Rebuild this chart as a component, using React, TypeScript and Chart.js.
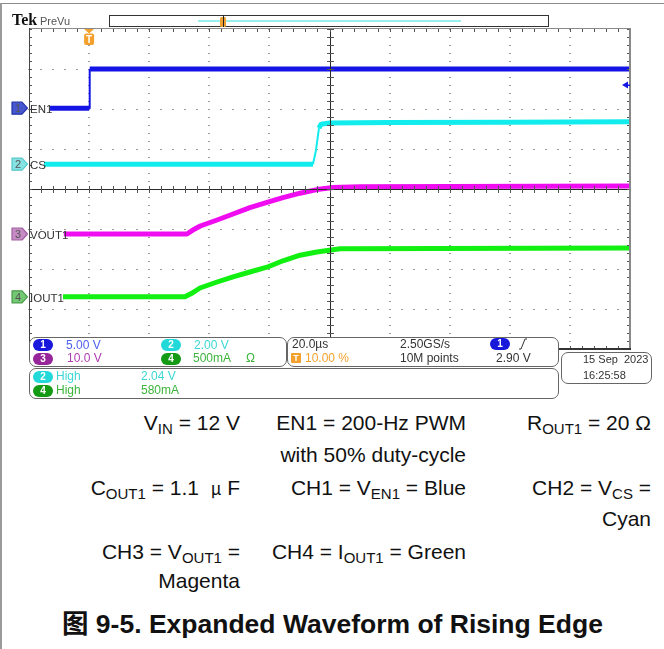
import React, { useEffect, useRef } from 'react';
import { Chart, registerables } from 'chart.js';
Chart.register(...registerables);

// ---------- scope settings ----------
const timeDivTicksUs = [-20, 0, 20, 40, 60, 80, 100, 120, 140, 160, 180];
const verticalDivTicks = [-4, -3, -2, -1, 0, 1, 2, 3, 4];
const minorPerDiv = 5;

const channelNames = ['EN1', 'CS', 'VOUT1', 'IOUT1'];
const channelScalesPerDiv = [5, 2, 10, 0.5]; // V/div, V/div, V/div, A/div
const channelOffsetsDiv = [2.02, 0.62, -1.125, -2.695];
const triggerLevelV = 2.9;
const triggerTimeUs = 0;

// ---------- waveforms ----------
// CH1 EN1 (V)
const en1TimeUs = [-13, 0, 0.2, 180];
const en1Volts = [0, 0, 4.9, 4.9];
// CH2 CS (V)
const csTimeUs = [-15, 74.5, 75.5, 76.5, 77.2, 80, 100, 140, 180];
const csVolts = [0, 0, 0.7, 1.8, 2.0, 2.06, 2.08, 2.1, 2.12];
// CH3 VOUT1 (V)
const voutTimeUs = [-8.4, 32.6, 35, 37, 42.6, 47.9, 53.5, 59.2, 64.5, 70.2, 75.8, 81.2, 90, 180];
const voutVolts = [0, 0, 1.2, 2.0, 3.5, 5.0, 6.6, 7.9, 9.1, 10.2, 11.1, 11.6, 11.8, 12.0];
// CH4 IOUT1 (A)
const ioutTimeUs = [-8.7, 31.9, 34, 36.9, 42.6, 47.9, 53.5, 59.2, 64.5, 70.2, 75.8, 83.5, 180];
const ioutAmps = [0, 0, 0.04, 0.11, 0.185, 0.25, 0.31, 0.37, 0.45, 0.52, 0.56, 0.6, 0.61];

const traceColors = ['#1414e6', '#12ecec', '#f00cf0', '#12f012'];
const markerFills = ['#4656cf', '#86e2e2', '#c58cc5', '#74c874'];
const markerStrokes = ['#2233aa', '#55c8c8', '#a060a0', '#4a9a4a'];

const SANS = '"Liberation Sans", Arial, sans-serif';
const W = 664;
const PLOT_L = 29, PLOT_R = 630, PLOT_T = 29, PLOT_B = 349;
const CANVAS_H = 360;

const yPix = (div: number) => PLOT_T + ((4 - div) / 8) * (PLOT_B - PLOT_T);
const xPix = (t: number) => PLOT_L + ((t - timeDivTicksUs[0]) / (timeDivTicksUs[timeDivTicksUs.length - 1] - timeDivTicksUs[0])) * (PLOT_R - PLOT_L);

const scopeGrid = {
  id: 'scopeGrid',
  beforeDatasetsDraw(chart: any) {
    const { ctx, scales: { x, y } } = chart;
    const tMin = timeDivTicksUs[0], tMax = timeDivTicksUs[timeDivTicksUs.length - 1];
    const tMid = (tMin + tMax) / 2;
    const tStep = timeDivTicksUs[1] - timeDivTicksUs[0];
    const vMin = verticalDivTicks[0], vMax = verticalDivTicks[verticalDivTicks.length - 1];
    ctx.save();
    ctx.fillStyle = '#ffffff';
    ctx.fillRect(x.left, y.top, x.right - x.left, y.bottom - y.top);
    ctx.fillStyle = '#9a9a9a';
    for (const t of timeDivTicksUs) {
      if (t === tMin || t === tMax || t === tMid) continue;
      const px = Math.round(x.getPixelForValue(t));
      for (let v = vMin; v <= vMax + 1e-9; v += 1 / minorPerDiv) {
        const py = Math.round(y.getPixelForValue(v));
        ctx.fillRect(px - 1, py, 2, 1);
      }
    }
    for (const v of verticalDivTicks) {
      if (v === vMin || v === vMax || v === 0) continue;
      const py = Math.round(y.getPixelForValue(v));
      for (let t = tMin; t <= tMax + 1e-9; t += tStep / minorPerDiv) {
        const px = Math.round(x.getPixelForValue(t));
        ctx.fillRect(px - 1, py, 2, 1);
      }
    }
    ctx.restore();
  },
  afterDatasetsDraw(chart: any) {
    const { ctx, scales: { x, y } } = chart;
    const tMin = timeDivTicksUs[0], tMax = timeDivTicksUs[timeDivTicksUs.length - 1];
    const tMid = (tMin + tMax) / 2;
    const tStep = timeDivTicksUs[1] - timeDivTicksUs[0];
    const vMin = verticalDivTicks[0], vMax = verticalDivTicks[verticalDivTicks.length - 1];
    const L = Math.round(x.getPixelForValue(tMin)), R = Math.round(x.getPixelForValue(tMax));
    const T = Math.round(y.getPixelForValue(vMax)), B = Math.round(y.getPixelForValue(vMin));
    const CX = Math.round(x.getPixelForValue(tMid)), CY = Math.round(y.getPixelForValue(0));
    ctx.save();
    ctx.fillStyle = '#2a2a2a';
    ctx.fillRect(CX, T, 1, B - T);
    ctx.fillRect(L, CY, R - L, 1);
    ctx.fillStyle = '#555';
    for (let v = vMin; v <= vMax + 1e-9; v += 1 / minorPerDiv) {
      const py = Math.round(y.getPixelForValue(v));
      ctx.fillRect(CX - 3, py, 7, 1);
      ctx.fillRect(L, py, 3, 1);
      ctx.fillRect(R - 3, py, 3, 1);
    }
    for (let t = tMin; t <= tMax + 1e-9; t += tStep / minorPerDiv) {
      const px = Math.round(x.getPixelForValue(t));
      ctx.fillRect(px, CY - 3, 1, 7);
      ctx.fillRect(px, T, 1, 3);
      ctx.fillRect(px, B - 3, 1, 3);
    }
    ctx.fillStyle = '#8a8a8a';
    ctx.fillRect(L, T - 1, R - L + 1, 1);
    ctx.fillStyle = '#444';
    ctx.fillRect(L, T - 1, 1, B - T + 1);
    ctx.fillStyle = '#888';
    ctx.fillRect(R - 1, T - 1, 2, B - T + 2);
    ctx.fillStyle = '#333';
    ctx.fillRect(L, B - 1, R - L + 1, 2);
    ctx.restore();
  },
};

function Txt(props: any) {
  const { x, r, y, size = 12, color = '#333', weight = 400, family = SANS, children, spacing } = props;
  const style: any = {
    position: 'absolute',
    top: y - size * 0.85,
    fontSize: size,
    lineHeight: `${size}px`,
    color,
    fontWeight: weight,
    fontFamily: family,
    whiteSpace: 'nowrap',
    letterSpacing: spacing,
  };
  if (r !== undefined) style.right = W - r;
  else style.left = x;
  return <div style={style}>{children}</div>;
}

function Sub({ children }: any) {
  return <span style={{ fontSize: 15, position: 'relative', top: 4, lineHeight: 0 }}>{children}</span>;
}

function Pill({ x, y, bg, n }: any) {
  return (
    <div style={{
      position: 'absolute', left: x, top: y, width: 20, height: 12, borderRadius: 6, background: bg,
      color: '#fff', fontSize: 10, lineHeight: '12px', textAlign: 'center', fontFamily: SANS, fontWeight: 700,
    }}>{n}</div>
  );
}

function Box({ x, y, w, h }: any) {
  return (
    <div style={{
      position: 'absolute', left: x, top: y, width: w, height: h, border: '1px solid #666',
      borderRadius: 7, background: '#fff', boxSizing: 'border-box',
    }} />
  );
}

export default function App() {
  const ref = useRef<HTMLCanvasElement>(null);

  useEffect(() => {
    const series = [
      [en1TimeUs, en1Volts],
      [csTimeUs, csVolts],
      [voutTimeUs, voutVolts],
      [ioutTimeUs, ioutAmps],
    ];
    const datasets = series.map(([times, vals], ch) => ({
      label: channelNames[ch],
      data: times.map((t, i) => ({ x: t, y: vals[i] / channelScalesPerDiv[ch] + channelOffsetsDiv[ch] })),
      borderColor: traceColors[ch],
      borderWidth: 5,
      pointRadius: 0,
      tension: 0,
      fill: false,
      borderCapStyle: 'butt',
      borderJoinStyle: 'round',
      segment: {
        borderWidth: (c: any) => {
          const dx = Math.abs(c.p1.x - c.p0.x);
          const dy = Math.abs(c.p1.y - c.p0.y);
          return dy > 4 * dx ? 2 : 5;
        },
      },
    }));
    const chart = new Chart(ref.current as HTMLCanvasElement, {
      type: 'line',
      data: { datasets: datasets as any },
      options: {
        animation: false,
        responsive: false,
        maintainAspectRatio: false,
        layout: { padding: { left: PLOT_L, top: PLOT_T, right: W - PLOT_R, bottom: CANVAS_H - PLOT_B } },
        scales: {
          x: { type: 'linear', min: timeDivTicksUs[0], max: timeDivTicksUs[timeDivTicksUs.length - 1], display: false },
          y: { type: 'linear', min: verticalDivTicks[0], max: verticalDivTicks[verticalDivTicks.length - 1], display: false },
        },
        plugins: { legend: { display: false }, tooltip: { enabled: false } },
      } as any,
      plugins: [scopeGrid],
    });
    return () => chart.destroy();
  }, []);

  const trigX = xPix(triggerTimeUs);
  const trigLevelY = yPix(channelOffsetsDiv[0] + triggerLevelV / channelScalesPerDiv[0]);

  return (
    <div style={{ position: 'absolute', left: 0, top: 0, width: W, height: 649, background: '#fff', overflow: 'hidden', fontFamily: SANS }}>
      <div style={{ position: 'absolute', left: 0, top: 3, width: W, height: 1, background: '#8c8c8c' }} />
      <div style={{ position: 'absolute', left: 0, top: 3, width: 2, height: 646, background: '#9a9a9a' }} />

      <canvas ref={ref} width={W} height={CANVAS_H} style={{ position: 'absolute', left: 0, top: 0, width: W, height: CANVAS_H }} />

      <Txt x={12} y={26} size={16} weight={700} color="#111" family='"Liberation Serif", serif'>Tek</Txt>
      <Txt x={40} y={25} size={11} color="#555">PreVu</Txt>
      <div style={{ position: 'absolute', left: 109, top: 15, width: 440, height: 12, border: '1px solid #333', boxSizing: 'border-box', background: '#fff' }} />
      <div style={{ position: 'absolute', left: 198, top: 20, width: 263, height: 2, background: '#99eeee' }} />

      <svg width={W} height={400} style={{ position: 'absolute', left: 0, top: 0, pointerEvents: 'none' }}>
        <rect x={220} y={17} width={6} height={10} rx={1.5} fill="#f0a030" />
        <rect x={223} y={15} width={1} height={12} fill="#222" />
        <polygon points={`${trigX - 5},29 ${trigX + 5},29 ${trigX},33.5`} fill="#f3a12c" />
        <rect x={trigX - 5} y={33.5} width={10} height={11.5} rx={2} fill="#f3a12c" />
        <text x={trigX} y={43} fontSize={10} fontWeight={700} fill="#fff" textAnchor="middle" fontFamily={SANS}>T</text>
        <polygon points={`622,${trigLevelY} 628,${trigLevelY - 3.5} 628,${trigLevelY + 3.5}`} fill="#1414e6" />
        <rect x={627} y={trigLevelY - 0.5} width={3} height={1.5} fill="#1414e6" />
        {channelNames.map((name, ch) => {
          const cy = yPix(channelOffsetsDiv[ch]);
          return (
            <g key={name}>
              <polygon
                points={`12,${cy - 6} 22,${cy - 6} 27.5,${cy} 22,${cy + 6} 12,${cy + 6}`}
                fill={markerFills[ch]} stroke={markerStrokes[ch]} strokeWidth={1.2} strokeLinejoin="round"
              />
              <text x={18} y={cy + 4} fontSize={11} fill="#555" textAnchor="middle" fontFamily={SANS}>{ch + 1}</text>
              <text x={30} y={cy + 5} fontSize={11.5} fill="#333" fontFamily={SANS}>{name}</text>
            </g>
          );
        })}
      </svg>

      <Box x={29} y={337} w={258} h={30} />
      <Box x={287} y={337} w={272} h={30} />
      <Box x={29} y={368} w={530} h={31} />
      <Box x={561} y={352} w={91} h={32} />

      <Pill x={33} y={339} bg="#1818dc" n="1" />
      <Txt x={66} y={349} color="#4d5ff0">5.00 V</Txt>
      <Pill x={161} y={339} bg="#22d8d8" n="2" />
      <Txt x={194} y={349} color="#3ed6d6">2.00 V</Txt>
      <Pill x={33} y={353} bg="#96259a" n="3" />
      <Txt x={67} y={362} color="#b03cb0">10.0 V</Txt>
      <Pill x={161} y={353} bg="#149a14" n="4" />
      <Txt x={193} y={362} color="#3cb43c">500mA</Txt>
      <Txt x={246} y={362} color="#3cb43c">Ω</Txt>

      <Txt x={292} y={348} color="#333">20.0µs</Txt>
      <Txt x={400} y={348} color="#333">2.50GS/s</Txt>
      <Pill x={490} y={338} bg="#1818dc" n="1" />
      <svg width={12} height={14} style={{ position: 'absolute', left: 517, top: 337 }}>
        <path d="M2,12 L4,12 L8,2 L10,2" stroke="#333" strokeWidth={1} fill="none" />
      </svg>
      <div style={{
        position: 'absolute', left: 291, top: 353, width: 10, height: 10, background: '#f3a12c', borderRadius: 1,
        color: '#fff', fontSize: 9, lineHeight: '10px', textAlign: 'center', fontWeight: 700, fontFamily: SANS,
      }}>T</div>
      <Txt x={305} y={362} color="#f3a12c">10.00 %</Txt>
      <Txt x={400} y={362} color="#333">10M points</Txt>
      <Txt x={496} y={362} color="#333">2.90 V</Txt>

      <Pill x={33} y={371} bg="#22d8d8" n="2" />
      <Txt x={56} y={380} color="#3ed6d6">High</Txt>
      <Txt x={141} y={380} color="#3ed6d6">2.04 V</Txt>
      <Pill x={33} y={385} bg="#149a14" n="4" />
      <Txt x={56} y={394} color="#3cb43c">High</Txt>
      <Txt x={141} y={394} color="#3cb43c">580mA</Txt>

      <Txt x={583} y={363} size={11} color="#333">15 Sep&nbsp;&nbsp;2023</Txt>
      <Txt x={583} y={379} size={11} color="#333">16:25:58</Txt>

      <Txt r={240} y={430} size={21} color="#111">V<Sub>IN</Sub> = 12 V</Txt>
      <Txt r={466} y={430} size={21} color="#111">EN1 = 200-Hz PWM</Txt>
      <Txt r={651} y={430} size={21} color="#111">R<Sub>OUT1</Sub> = 20 Ω</Txt>
      <Txt r={466} y={462} size={21} color="#111">with 50% duty-cycle</Txt>
      <Txt r={240} y={495} size={21} color="#111">C<Sub>OUT1</Sub> = 1.1&nbsp;&nbsp;<span style={{ fontFamily: '"Noto Sans CJK SC", serif', fontSize: 17 }}>μ</span> F</Txt>
      <Txt r={466} y={495} size={21} color="#111">CH1 = V<Sub>EN1</Sub> = Blue</Txt>
      <Txt r={651} y={495} size={21} color="#111">CH2 = V<Sub>CS</Sub> =</Txt>
      <Txt r={651} y={526} size={21} color="#111">Cyan</Txt>
      <Txt r={240} y={559} size={21} color="#111">CH3 = V<Sub>OUT1</Sub> =</Txt>
      <Txt r={466} y={559} size={21} color="#111">CH4 = I<Sub>OUT1</Sub> = Green</Txt>
      <Txt r={240} y={588} size={21} color="#111">Magenta</Txt>

      <Txt x={62} y={632} size={26.5} weight={700} color="#111">
        <span style={{ fontFamily: '"Noto Sans CJK SC", sans-serif' }}>图</span> 9-5. Expanded Waveform of Rising Edge
      </Txt>
    </div>
  );
}
